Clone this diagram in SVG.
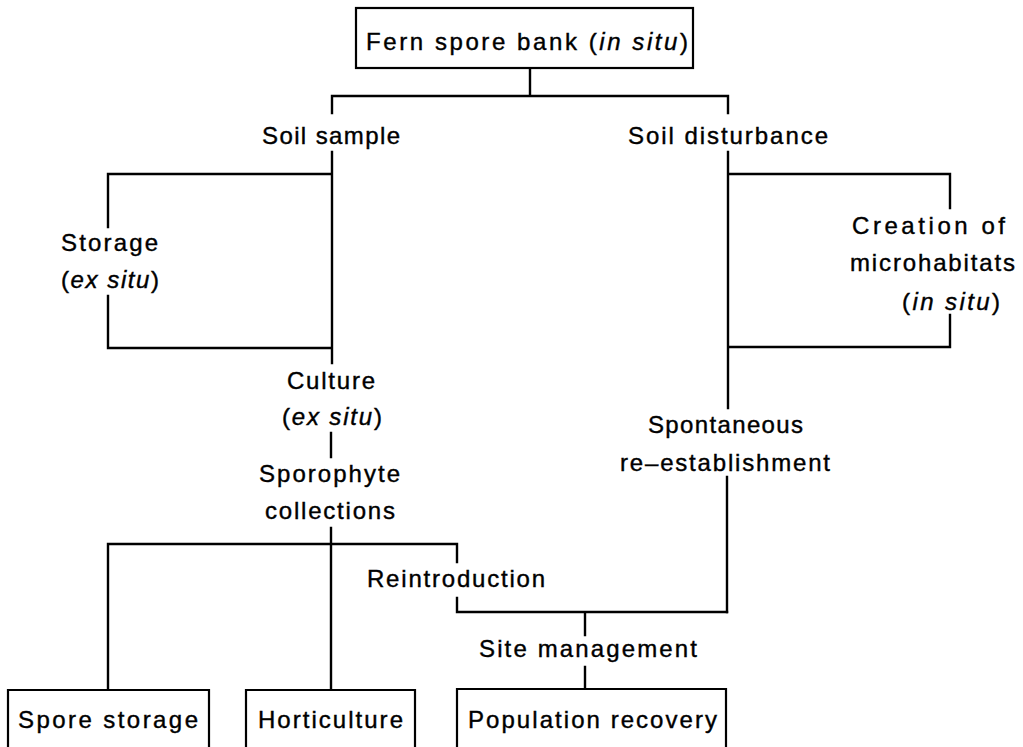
<svg xmlns="http://www.w3.org/2000/svg" width="1023" height="747" viewBox="0 0 1023 747">
<style>
.ln{stroke:#000;stroke-width:2.4;fill:none;stroke-linecap:square}
.bx{stroke:#000;stroke-width:2.2;fill:#fff}
text{font-family:"Liberation Sans",Arial,sans-serif;font-size:24px;fill:#000;stroke:#000;stroke-width:0.4}
.i{font-style:italic}
</style>
<rect width="1023" height="747" fill="#fff"/>
<g id="connectors">
<path class="ln" d="M530,68V96M332,96H728M332,96V113M728,96V113"/>
<path class="ln" d="M332,152V363M108,174H332M108,174V227M108,296V348M108,348H332"/>
<path class="ln" d="M331,433V457M331,528V690M108,544H457M108,544V690M457,544V562M457,598V612M457,612H727M585,612V635M585,667V689"/>
<path class="ln" d="M728,152V408M728,174H950M950,174V208M950,315V347M728,347H950M727,477V612"/>
</g>
<g id="fern-spore-bank">
<rect class="bx" x="356" y="8" width="337" height="60"/>
<text x="366" y="50" textLength="322" lengthAdjust="spacing">Fern spore bank (<tspan class="i">in situ</tspan>)</text>
</g>
<g id="soil-sample"><text x="262" y="144" textLength="138" lengthAdjust="spacing">Soil sample</text></g>
<g id="soil-disturbance"><text x="628" y="144" textLength="200" lengthAdjust="spacing">Soil disturbance</text></g>
<g id="storage">
<text x="61" y="251" textLength="97" lengthAdjust="spacing">Storage</text>
<text x="61" y="288" textLength="98" lengthAdjust="spacing">(<tspan class="i">ex situ</tspan>)</text>
</g>
<g id="culture">
<text x="287" y="389" textLength="88" lengthAdjust="spacing">Culture</text>
<text x="282" y="425" textLength="100" lengthAdjust="spacing">(<tspan class="i">ex situ</tspan>)</text>
</g>
<g id="sporophyte-collections">
<text x="259" y="482" textLength="141" lengthAdjust="spacing">Sporophyte</text>
<text x="265" y="519" textLength="130" lengthAdjust="spacing">collections</text>
</g>
<g id="reintroduction"><text x="367" y="587" textLength="178" lengthAdjust="spacing">Reintroduction</text></g>
<g id="creation-of-microhabitats">
<text x="852" y="234" textLength="153" lengthAdjust="spacing">Creation of</text>
<text x="850" y="271" textLength="165" lengthAdjust="spacing">microhabitats</text>
<text x="902" y="310" textLength="98" lengthAdjust="spacing">(<tspan class="i">in situ</tspan>)</text>
</g>
<g id="spontaneous-re-establishment">
<text x="648" y="433" textLength="155" lengthAdjust="spacing">Spontaneous</text>
<text x="620" y="471" textLength="210" lengthAdjust="spacing">re–establishment</text>
</g>
<g id="site-management"><text x="479" y="657" textLength="218" lengthAdjust="spacing">Site management</text></g>
<g id="spore-storage">
<path class="bx" d="M8,750V690H209V750"/>
<text x="18" y="728" textLength="180" lengthAdjust="spacing">Spore storage</text>
</g>
<g id="horticulture">
<path class="bx" d="M246,750V690H415V750"/>
<text x="258" y="728" textLength="145" lengthAdjust="spacing">Horticulture</text>
</g>
<g id="population-recovery">
<path class="bx" d="M457,750V689H726V750"/>
<text x="468" y="728" textLength="249" lengthAdjust="spacing">Population recovery</text>
</g>
</svg>
